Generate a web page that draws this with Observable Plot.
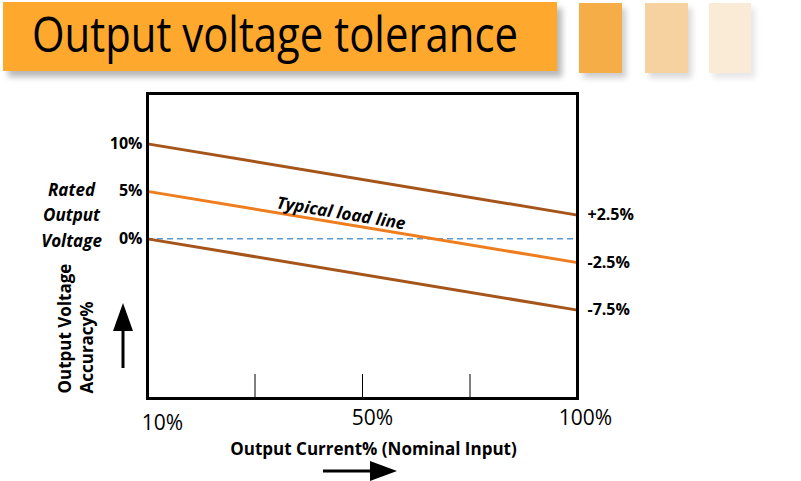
<!DOCTYPE html>
<html>
<head>
<meta charset="utf-8">
<script src="https://cdn.jsdelivr.net/npm/d3@7"></script>
<script src="https://cdn.jsdelivr.net/npm/@observablehq/plot@0.6"></script>
<style>
  html, body { margin: 0; padding: 0; background: #fff; }
  #wrap { position: relative; width: 801px; height: 481px; overflow: hidden; background: #fff; font-family: "Open Sans", sans-serif; }
  #chart { position: absolute; left: 0; top: 0; }
  .deco { position: absolute; }
</style>
</head>
<body>
<div id="wrap">
  <div id="chart"></div>
  <div class="deco" style="left:3px;top:2px;width:554px;height:69px;background:#FFA82E;box-shadow:5px 6px 6px rgba(0,0,0,0.28)">
    <svg width="554" height="69" style="position:absolute;left:0;top:0;overflow:visible">
      <text x="29" y="50" font-family="Open Sans" font-size="50" fill="#000" textLength="486" lengthAdjust="spacingAndGlyphs">Output voltage tolerance</text>
    </svg>
  </div>
  <div class="deco" style="left:579px;top:3px;width:43px;height:70px;background:#F5AE47;box-shadow:4px 5px 6px rgba(0,0,0,0.2)"></div>
  <div class="deco" style="left:645px;top:3px;width:43px;height:70px;background:#F5D29F;box-shadow:4px 5px 6px rgba(0,0,0,0.15)"></div>
  <div class="deco" style="left:709px;top:3px;width:42px;height:70px;background:#FAEBD7;box-shadow:4px 5px 6px rgba(0,0,0,0.1)"></div>
</div>
<script>
// ---- data ----
const lineNames = ["Upper limit", "Typical load line", "Lower limit"];
const startValues = [10, 5, 0];        // at 10% output current
const endValues = [2.5, -2.5, -7.5];   // at 100% output current
const leftTicks = [10, 5, 0];
const rightTicks = [2.5, -2.5, -7.5];
const xTickLabels = ["10%", "50%", "100%"];
const xTickSteps = [0, 2, 4];          // schematic quarter positions
const innerTickSteps = [1, 2, 3];
const lineColors = ["#A5541A", "#EE7D1E", "#A5541A"];

const startStep = 0, endStep = 4;
const lineRows = lineNames.flatMap((name, i) => [
  {name, step: startStep, value: startValues[i]},
  {name, step: endStep, value: endValues[i]}
]);

const labelStep = 1.8;
const typical = 1;
const labelValue = startValues[typical] + (endValues[typical] - startValues[typical]) * labelStep / (endStep - startStep);

const W = 801, H = 481;
const mL = 147, mR = 224, mT = 93, mB = 83;
const angle = Math.atan2(
  (startValues[0] - endValues[0]) * (H - mT - mB) / (15.3 + 16.8),
  (W - mL - mR)
) * 180 / Math.PI;

const chart = Plot.plot({
  width: W, height: H,
  marginLeft: mL, marginRight: mR, marginTop: mT, marginBottom: mB,
  x: {domain: [startStep, endStep], axis: null},
  y: {domain: [-16.8, 15.3], axis: null},
  color: {domain: lineNames, range: lineColors},
  style: {fontFamily: "Open Sans", color: "#000", background: "transparent"},
  marks: [
    Plot.ruleY([0], {stroke: "#5B9BD5", strokeWidth: 1.5, strokeDasharray: "6,4"}),
    Plot.line(lineRows, {x: "step", y: "value", z: "name", stroke: "name", strokeWidth: 3}),
    Plot.ruleX(innerTickSteps, {x: d => d, stroke: "#000", strokeWidth: 1, insetTop: 281}),
    Plot.frame({stroke: "#000", strokeWidth: 3}),
    Plot.axisY(leftTicks, {anchor: "left", label: null, tickSize: 0, tickPadding: 5, tickFormat: d => d + "%", fontSize: 16, fontWeight: "bold"}),
    Plot.axisY(rightTicks, {anchor: "right", label: null, tickSize: 0, tickPadding: 10, tickFormat: d => (d > 0 ? "+" : "") + d + "%", fontSize: 16, fontWeight: "bold"}),
    ...xTickLabels.map((t, i) => Plot.text([t], {
      x: xTickSteps[i], frameAnchor: "bottom", text: d => d,
      dx: [15, 10, 8][i], dy: [31, 26, 26][i], fontSize: 21
    })),
    Plot.text(["Typical load line"], {
      x: labelStep, y: labelValue, text: d => d, rotate: angle, dy: -10,
      fontSize: 17, fontWeight: "bold", fontStyle: "italic"
    }),
    Plot.text(["Rated\nOutput\nVoltage"], {
      frameAnchor: "left", y: 0, text: d => d, dx: -76, dy: 8,
      textAnchor: "middle", lineAnchor: "bottom", lineHeight: 1.5,
      fontSize: 17, fontWeight: "bold", fontStyle: "italic"
    }),
    Plot.text(["Output Voltage\nAccuracy%"], {
      frameAnchor: "bottom-left", text: d => d, rotate: -90,
      dx: -92, dy: -5, textAnchor: "start", lineAnchor: "top", lineHeight: 1.3,
      fontSize: 17, fontWeight: "bold"
    }),
    Plot.text(["Output Current% (Nominal Input)"], {
      frameAnchor: "bottom", text: d => d, dx: 11, dy: 56,
      fontSize: 17, fontWeight: "bold"
    })
  ]
});
document.getElementById("chart").appendChild(chart);

// arrows (decorations), positioned relative to the frame
const svg = d3.select(chart);
const g = svg.append("g").attr("fill", "#000").attr("stroke", "#000");
// up arrow
const ux = mL - 24, uBottom = H - mB - 30;
g.append("line").attr("x1", ux).attr("x2", ux).attr("y1", uBottom).attr("y2", uBottom - 40).attr("stroke-width", 3);
g.append("path").attr("stroke", "none").attr("d", `M${ux - 10},${uBottom - 37} L${ux + 10},${uBottom - 37} L${ux},${uBottom - 65} Z`);
// right arrow
const ry = H - 10, rx0 = 323;
g.append("line").attr("x1", rx0).attr("x2", rx0 + 50).attr("y1", ry).attr("y2", ry).attr("stroke-width", 3);
g.append("path").attr("stroke", "none").attr("d", `M${rx0 + 47},${ry - 10} L${rx0 + 47},${ry + 10} L${rx0 + 74},${ry} Z`);
</script>
</body>
</html>
